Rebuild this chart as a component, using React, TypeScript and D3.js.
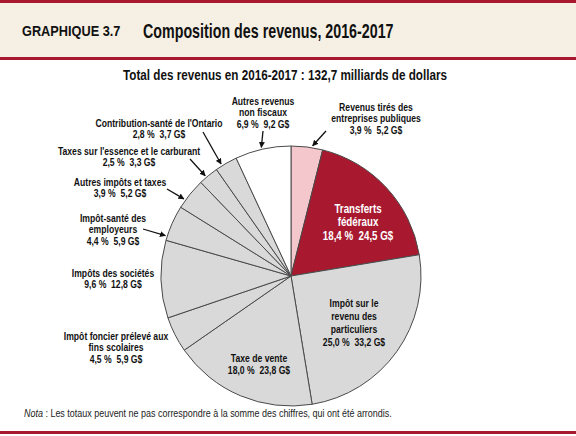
import { useRef, useEffect } from "react"
import * as d3 from "d3"

// Revenue components, clockwise from 12 o'clock (billions $)
const categories = [
  "Revenus tirés des entreprises publiques",
  "Transferts fédéraux",
  "Impôt sur le revenu des particuliers",
  "Taxe de vente",
  "Impôt foncier prélevé aux fins scolaires",
  "Impôts des sociétés",
  "Impôt-santé des employeurs",
  "Autres impôts et taxes",
  "Taxes sur l'essence et le carburant",
  "Contribution-santé de l'Ontario",
  "Autres revenus non fiscaux",
]
const amounts = [5.2, 24.5, 33.2, 23.8, 5.9, 12.8, 5.9, 5.2, 3.3, 3.7, 9.2]
const percents = ["3,9", "18,4", "25,0", "18,0", "4,5", "9,6", "4,4", "3,9", "2,5", "2,8", "6,9"]
const amountLabels = ["5,2", "24,5", "33,2", "23,8", "5,9", "12,8", "5,9", "5,2", "3,3", "3,7", "9,2"]
const fills = ["#f4c7cd", "#a8192f", "#d9d9d9", "#d9d9d9", "#d9d9d9", "#d9d9d9", "#d9d9d9", "#d9d9d9", "#d9d9d9", "#d9d9d9", "#ffffff"]

// label layout: wrapped name lines, anchor point, optional arrow (start point + position along slice)
const labelLayout = [
  { lines: ["Revenus tirés des", "entreprises publiques"], x: 376, y: 111, arrow: { x: 326, y: 131, t: 0.67 } },
  { lines: ["Transferts", "fédéraux"], x: 358, y: 213, color: "#ffffff", lh: 13.5, size: 13 },
  { lines: ["Impôt sur le", "revenu des", "particuliers"], x: 354, y: 307, lh: 13 },
  { lines: ["Taxe de vente"], x: 259, y: 362, lh: 12 },
  { lines: ["Impôt foncier prélevé aux", "fins scolaires"], x: 116, y: 340 },
  { lines: ["Impôts des sociétés"], x: 113, y: 277 },
  { lines: ["Impôt-santé des", "employeurs"], x: 113, y: 222, arrow: { x: 143, y: 229, t: 0.12 } },
  { lines: ["Autres impôts et taxes"], x: 120, y: 186, arrow: { x: 167, y: 189, t: 0.27 } },
  { lines: ["Taxes sur l'essence et le carburant"], x: 129, y: 155, arrow: { x: 190, y: 159, t: 0.38 } },
  { lines: ["Contribution-santé de l'Ontario"], x: 159, y: 127, arrow: { x: 203, y: 132, t: 0.3 } },
  { lines: ["Autres revenus", "non fiscaux"], x: 263, y: 105, arrow: { x: 263, y: 131, t: 0.48 } },
]

const FONT = "'Liberation Sans', Arial, sans-serif"
const RED = "#a8192f"

export default function App() {
  const svgRef = useRef<SVGSVGElement | null>(null)

  useEffect(() => {
    if (!svgRef.current) return
    const svg = d3.select(svgRef.current)
    svg.selectAll("*").remove()

    const W = 576
    const H = 436

    // condensed text helper (no narrow font installed)
    const ctext = (x: number, y: number, sx: number, size: number, bold = true) =>
      svg
        .append("text")
        .attr("transform", `translate(${x},${y}) scale(${sx},1)`)
        .attr("font-family", FONT)
        .attr("font-weight", bold ? "bold" : "normal")
        .attr("font-size", size)
        .attr("fill", "#111")

    svg.append("rect").attr("width", W).attr("height", H).attr("fill", "#ffffff")

    // header band
    svg.append("rect").attr("x", 0).attr("y", 0).attr("width", W).attr("height", 60).attr("fill", "#f6f0e4")
    svg.append("rect").attr("x", 0).attr("y", 0).attr("width", W).attr("height", 3).attr("fill", RED)
    svg.append("rect").attr("x", 0).attr("y", 57).attr("width", W).attr("height", 3).attr("fill", RED)
    svg.append("rect").attr("x", 0).attr("y", 431).attr("width", W).attr("height", 3).attr("fill", RED)

    ctext(22, 36, 0.85, 15).text("GRAPHIQUE 3.7")
    ctext(143, 38, 0.68, 21).text("Composition des revenus, 2016-2017")
    ctext(285, 80, 0.78, 15).attr("text-anchor", "middle").text("Total des revenus en 2016-2017 : 132,7 milliards de dollars")

    // pie
    const cx = 291
    const cy = 276
    const r = 130
    const idx = d3.range(amounts.length)
    const pie = d3
      .pie<number>()
      .sort(null)
      .value((i) => amounts[i])
      .startAngle(0)
      .endAngle(2 * Math.PI)
    const arcs = pie(idx)
    const arc = d3.arc<d3.PieArcDatum<number>>().innerRadius(0).outerRadius(r)

    const g = svg.append("g").attr("transform", `translate(${cx},${cy})`)
    g.selectAll("path")
      .data(arcs)
      .enter()
      .append("path")
      .attr("d", arc)
      .attr("fill", (d) => fills[d.data])
      .attr("stroke", "#4a4a4a")
      .attr("stroke-width", 1)

    // arrowhead
    svg
      .append("defs")
      .append("marker")
      .attr("id", "ah")
      .attr("viewBox", "0 0 10 10")
      .attr("refX", 9)
      .attr("refY", 5)
      .attr("markerWidth", 6)
      .attr("markerHeight", 6)
      .attr("markerUnits", "userSpaceOnUse")
      .attr("orient", "auto")
      .append("path")
      .attr("d", "M0,0 L10,5 L0,10 z")
      .attr("fill", "#111")

    // labels
    arcs.forEach((a, k) => {
      const lay = labelLayout[k] as any
      const lh = lay.lh ?? 11.5
      const lines = [...lay.lines, `${percents[k]} %  ${amountLabels[k]} G$`]
      const t = ctext(lay.x, lay.y, 0.75, lay.size ?? 11.5)
        .attr("text-anchor", "middle")
        .attr("fill", lay.color ?? "#111")
      lines.forEach((ln, j) => {
        t.append("tspan").attr("x", 0).attr("y", j * lh).attr("xml:space", "preserve").text(ln)
      })
      if (lay.arrow) {
        const ang = a.startAngle + lay.arrow.t * (a.endAngle - a.startAngle)
        const tx = cx + (r + 2) * Math.sin(ang)
        const ty = cy - (r + 2) * Math.cos(ang)
        svg
          .append("line")
          .attr("x1", lay.arrow.x)
          .attr("y1", lay.arrow.y)
          .attr("x2", tx)
          .attr("y2", ty)
          .attr("stroke", "#111")
          .attr("stroke-width", 1.3)
          .attr("marker-end", "url(#ah)")
      }
    })

    // note
    const note = ctext(24, 417, 0.78, 11.5, false).attr("fill", "#222")
    note.append("tspan").attr("font-style", "italic").text("Nota")
    note.append("tspan").text(" : Les totaux peuvent ne pas correspondre à la somme des chiffres, qui ont été arrondis.")
  }, [])

  return (
    <svg
      ref={svgRef}
      width={576}
      height={436}
      style={{ position: "absolute", left: 0, top: 0, display: "block" }}
    ></svg>
  )
}
